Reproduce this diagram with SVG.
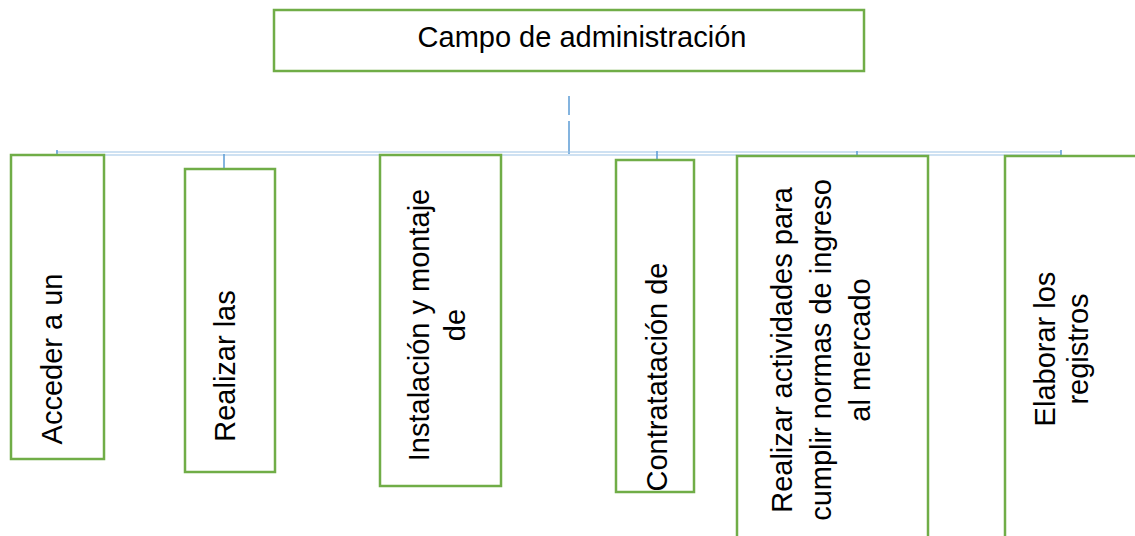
<svg xmlns="http://www.w3.org/2000/svg" width="1135" height="536" viewBox="0 0 1135 536">
<style>
.box{fill:#fff;stroke:#70AD47;stroke-width:2.5}
.t{font-family:"Liberation Sans",Arial,sans-serif;font-size:29px;fill:#000;text-anchor:middle}
.c{stroke:#5B9BD5;stroke-width:1.5;fill:none}
.h{stroke:#9DC3E6;stroke-width:1.2;fill:none}
</style>
<rect width="1135" height="536" fill="#fff"/>
<g id="connectors">
<line class="c" x1="569" y1="96" x2="569" y2="115"/>
<line class="c" x1="569" y1="121" x2="569" y2="154"/>
<line class="h" x1="56" y1="152" x2="1061" y2="152"/>
<line class="h" x1="56" y1="155" x2="1061" y2="155"/>
<line class="c" x1="57" y1="150" x2="57" y2="155"/>
<line class="c" x1="224" y1="154" x2="224" y2="169"/>
<line class="c" x1="657" y1="151" x2="657" y2="160"/>
<line class="c" x1="857" y1="151" x2="857" y2="156"/>
<line class="c" x1="1061" y1="150" x2="1061" y2="156"/>
</g>
<g id="root">
<rect class="box" x="274" y="10" width="590" height="61"/>
<text class="t" x="582" y="47">Campo de administración</text>
</g>
<g id="n1">
<rect class="box" x="11" y="155" width="93" height="304"/>
<text class="t" transform="translate(62,359) rotate(-90)">Acceder a un</text>
</g>
<g id="n2">
<rect class="box" x="185" y="169" width="90" height="303"/>
<text class="t" transform="translate(235,366) rotate(-90)">Realizar las</text>
</g>
<g id="n3">
<rect class="box" x="380" y="155" width="121" height="331"/>
<text class="t" transform="translate(429,325) rotate(-90)"><tspan x="0" y="0">Instalación y montaje</tspan><tspan x="0" y="36">de</tspan></text>
</g>
<g id="n4">
<rect class="box" x="616" y="160" width="78" height="332"/>
<text class="t" transform="translate(667,377) rotate(-90)">Contratatación de</text>
</g>
<g id="n5">
<rect class="box" x="737" y="156" width="191" height="400"/>
<text class="t" transform="translate(792,350) rotate(-90)"><tspan x="0" y="0">Realizar actividades para</tspan><tspan x="0" y="39">cumplir normas de ingreso</tspan><tspan x="0" y="78">al mercado</tspan></text>
</g>
<g id="n6">
<rect class="box" x="1005" y="156" width="160" height="400"/>
<text class="t" transform="translate(1055,349) rotate(-90)"><tspan x="0" y="0">Elaborar los</tspan><tspan x="0" y="33">registros</tspan></text>
</g>
</svg>
